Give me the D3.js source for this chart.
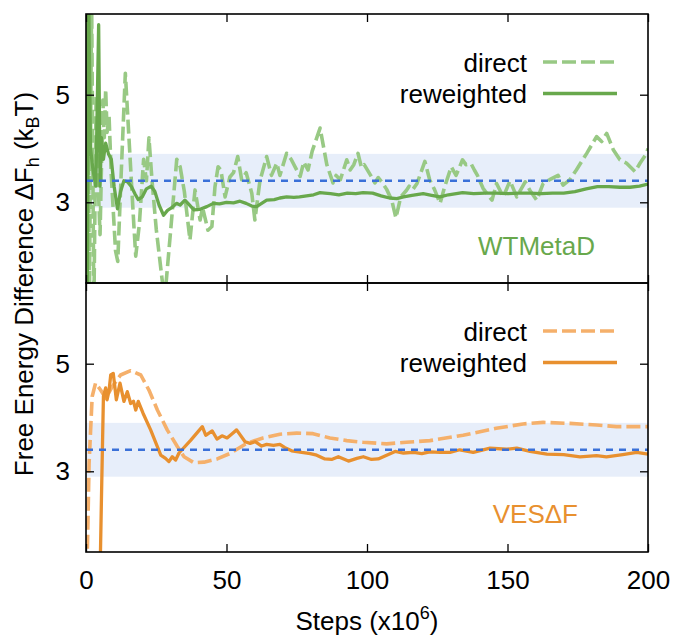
<!DOCTYPE html>
<html>
<head>
<meta charset="utf-8">
<script src="https://cdn.jsdelivr.net/npm/d3@7"></script>
<style>
  body { margin: 0; background: #fff; }
  svg text { font-family: "Liberation Sans", Arial, sans-serif; fill: #000; }
</style>
</head>
<body>
<svg id="chart" width="673" height="637"></svg>
<script>
// [steps (x10^6), dF (kBT)]
const wtDirect = [
  [0,6.0],[0.5,7.0],[1.2,1.2],[2.0,6.8],[2.8,1.0],[3.6,5.0],[4.3,3.4],[5.0,2.4],[6.0,4.9],[6.5,4.2],
  [7.0,5.1],[7.5,4.3],[8.2,4.6],[9.0,3.5],[10.5,2.1],[11.3,1.9],[12.5,3.5],[14.0,5.4],[15.5,4.0],[17.0,2.6],
  [17.7,2.0],[19.0,2.6],[20.5,3.8],[21.5,3.4],[22.4,4.2],[23.5,3.4],[25.0,2.5],[27.0,1.6],[28.0,1.2],[30.0,2.4],
  [32.3,3.8],[33.5,3.66],[35,3.2],[37,2.3],[38.8,3.23],[40.6,2.67],[41.5,2.9],[43.4,2.48],[44.8,2.55],[45.9,3.29],
  [47,3.66],[48,3.6],[49.5,3.1],[51.2,3.47],[52.5,3.55],[54,3.85],[55.4,3.42],[57,3.55],[59,3.17],[60.1,2.67],
  [61.9,3.4],[64.3,3.85],[66,3.5],[67.9,3.73],[69,3.5],[71.4,3.91],[73,3.8],[74.5,3.65],[76.2,3.48],[77.5,3.75],
  [79,3.6],[80.5,3.95],[83.3,4.38],[85.7,3.7],[87.9,3.36],[89,3.5],[90.5,3.42],[92.8,3.79],[94,3.6],[95.3,3.7],
  [96.8,3.91],[98,3.65],[99,3.7],[101.3,3.5],[102.8,3.36],[104,3.46],[105.5,3.36],[107,3.24],[108.8,3.04],[110.3,2.71],
  [112,3.1],[114,3.22],[115,3.3],[116.2,3.23],[117.8,3.35],[120.6,3.76],[122.3,3.42],[124,3.24],[126,2.98],[127.7,3.3],
  [130,3.66],[131.7,3.5],[134,3.79],[135.2,3.7],[137,3.72],[138.2,3.6],[139.3,3.5],[141.3,3.26],[143,3.14],[144.5,3.04],
  [146.1,3.35],[148.5,3.1],[150.9,3.4],[153.3,3.1],[156.3,3.38],[158,3.22],[160.4,3.04],[162.7,3.35],[165,3.42],[168,3.5],
  [169.8,3.32],[172.2,3.42],[174.5,3.6],[178.2,3.91],[181.7,4.22],[183.5,4.13],[185.3,4.28],[187.7,3.97],[190,3.79],[192.3,3.73],
  [195.4,3.57],[197.2,3.73],[199.5,3.91],[200,4.0]
];
const wtReweighted = [
  [0,6.8],[0.4,1.0],[1.0,6.6],[1.6,4.0],[2.5,3.6],[3.5,3.3],[4.5,6.3],[5.0,3.3],[5.5,4.2],[6.2,3.8],
  [7.0,4.1],[8.0,3.9],[9.0,3.8],[10.0,3.3],[11.2,2.88],[12.3,3.2],[13.5,3.4],[14.8,3.38],[16.2,3.29],[17.5,3.15],
  [18.6,3.05],[20,3.1],[21.5,3.25],[23.2,3.3],[24.5,3.2],[26,2.95],[27.6,2.76],[29,2.85],[30.5,2.9],[32.2,2.98],
  [33.5,2.95],[35.2,3.04],[36.8,2.95],[38.4,2.86],[40.6,2.87],[43,2.92],[45.3,2.98],[47.5,2.97],[50,3.0],[52.5,2.99],
  [54.8,3.02],[57,2.98],[59,2.93],[60.7,2.92],[62.5,2.98],[64.3,3.04],[67,3.05],[69,3.08],[71.4,3.1],[74,3.09],
  [76,3.1],[78.5,3.12],[81,3.14],[83.3,3.18],[85,3.17],[87,3.16],[90,3.14],[93,3.17],[96,3.16],[98.6,3.18],
  [102,3.17],[105,3.12],[108,3.08],[110.6,3.07],[113,3.1],[116,3.13],[120,3.16],[123,3.13],[126,3.1],[129,3.14],
  [134,3.18],[138,3.16],[142,3.17],[146,3.17],[150,3.16],[154,3.17],[158,3.17],[162,3.16],[166,3.17],[170,3.17],
  [174,3.2],[178,3.25],[182,3.29],[186,3.29],[190,3.28],[193.6,3.28],[197,3.3],[200,3.34]
];
const vesDirect = [
  [0,0.5],[0.6,1.8],[1.1,3.15],[2.2,4.39],[3.4,4.64],[5.2,4.51],[7.0,4.36],[9.3,4.57],[12.3,4.79],[15.9,4.87],
  [19.5,4.79],[22.4,4.51],[25.4,4.14],[28.9,3.77],[32.5,3.46],[34.9,3.27],[38.4,3.16],[42,3.17],[46.7,3.23],[51.2,3.33],
  [57.2,3.52],[63,3.62],[69,3.69],[75,3.71],[80.8,3.7],[86.8,3.62],[92.8,3.57],[98.6,3.54],[107,3.51],[114,3.54],
  [122.4,3.57],[134.2,3.67],[146,3.8],[155.5,3.88],[162.7,3.91],[172.2,3.89],[181.7,3.86],[188.8,3.83],[200,3.83]
];
const vesReweighted = [
  [4.8,0.5],[5.5,2.5],[6.2,4.39],[7.0,4.55],[7.5,4.33],[8.2,4.5],[8.8,4.79],[9.7,4.82],[10.8,4.33],[12.1,4.64],
  [13.5,4.3],[14.7,4.48],[15.9,4.26],[16.9,4.3],[17.7,4.14],[18.6,4.3],[20.3,4.08],[23,3.77],[26.6,3.3],[28.3,3.24],
  [29.5,3.18],[30.7,3.27],[31.9,3.21],[33.1,3.34],[37.3,3.58],[41.4,3.83],[42.6,3.67],[44.9,3.75],[46.6,3.6],[48.4,3.66],
  [50.2,3.62],[52,3.7],[53.6,3.77],[56.6,3.55],[58.4,3.52],[60.2,3.55],[62.5,3.47],[64.3,3.5],[66.7,3.48],[69,3.5],
  [70.8,3.44],[73.2,3.38],[76.8,3.35],[79.8,3.33],[82.1,3.3],[85,3.23],[87.4,3.22],[89.8,3.27],[93.4,3.19],[96.4,3.24],
  [98.7,3.27],[101.6,3.22],[104,3.23],[107,3.3],[110,3.37],[113,3.34],[116.6,3.35],[119.5,3.33],[122.4,3.36],[126,3.35],
  [129.5,3.35],[133,3.4],[137.8,3.35],[143.8,3.43],[149.7,3.41],[153.3,3.43],[158,3.37],[164,3.32],[170,3.31],[175.8,3.27],
  [181.7,3.29],[185.2,3.27],[191,3.31],[196,3.35],[200,3.32]
];
const reference = 3.4;       // dotted line
const refBand = [2.9, 3.9];  // shaded band
const xTicks = [0, 50, 100, 150, 200];
const yTicks = [3, 5];
const panels = [
  {name: "WTMetaD", direct: wtDirect, reweighted: wtReweighted, light: "#98c984", dark: "#68a84c"},
  {name: "VES\u0394F", direct: vesDirect, reweighted: vesReweighted, light: "#f5b06b", dark: "#e8902f"}
];

const svg = d3.select("#chart");
const left = 86, right = 648, top0 = 14, panelH = 269;
const x = d3.scaleLinear().domain([0, 200]).range([left, right]);

panels.forEach(function (p, i) {
    let y0 = top0 + i * panelH;
    let y = d3.scaleLinear().domain([1.5, 6.5]).range([y0 + panelH, y0]);
    let g = svg.append("g");

    g.append("clipPath").attr("id", "clip" + i)
        .append("rect").attr("x", left).attr("y", y0).attr("width", right - left).attr("height", panelH);

    g.append("rect")
        .attr("x", left).attr("width", right - left)
        .attr("y", y(refBand[1])).attr("height", y(refBand[0]) - y(refBand[1]))
        .attr("fill", "#e7eefa");

    let line = d3.line().x(d => x(d[0])).y(d => y(d[1]));
    let data = g.append("g").attr("clip-path", "url(#clip" + i + ")");
    data.append("path").datum(p.direct)
        .attr("d", line).attr("fill", "none")
        .attr("stroke", p.light).attr("stroke-width", 3.6)
        .attr("stroke-dasharray", "14,5").attr("stroke-linejoin", "round");
    data.append("path").datum(p.reweighted)
        .attr("d", line).attr("fill", "none")
        .attr("stroke", p.dark).attr("stroke-width", 3.3)
        .attr("stroke-linejoin", "round");

    g.append("line")
        .attr("x1", left).attr("x2", right)
        .attr("y1", y(reference)).attr("y2", y(reference))
        .attr("stroke", "#3a70d8").attr("stroke-width", 2.6)
        .attr("stroke-dasharray", "7,6");

    // inward ticks on all four sides
    let axB = g.append("g").attr("transform", "translate(0," + (y0 + panelH) + ")")
        .call(d3.axisBottom(x).tickValues(xTicks).tickSizeInner(-8).tickSizeOuter(0).tickPadding(19).tickFormat(i === 1 ? d3.format("d") : ""));
    let axT = g.append("g").attr("transform", "translate(0," + y0 + ")")
        .call(d3.axisTop(x).tickValues(xTicks).tickSizeInner(-8).tickSizeOuter(0).tickFormat(""));
    let axL = g.append("g").attr("transform", "translate(" + left + ",0)")
        .call(d3.axisLeft(y).tickValues(yTicks).tickSizeInner(-8).tickSizeOuter(0).tickPadding(16).tickFormat(d3.format("d")));
    let axR = g.append("g").attr("transform", "translate(" + right + ",0)")
        .call(d3.axisRight(y).tickValues(yTicks).tickSizeInner(-8).tickSizeOuter(0).tickFormat(""));
    [axB, axT, axL, axR].forEach(function (a) {
        a.select(".domain").remove();
        a.selectAll("line").attr("stroke", "#000").attr("stroke-width", 1.3);
        a.selectAll("text").attr("font-size", 26).attr("font-family", "Liberation Sans, Arial, sans-serif").attr("fill", "#000");
    });

    g.append("rect")
        .attr("x", left).attr("y", y0).attr("width", right - left).attr("height", panelH)
        .attr("fill", "none").attr("stroke", "#000").attr("stroke-width", 1.6);

    // legend
    let legend = [["direct", p.light, "14,5", 0], ["reweighted", p.dark, null, 31.5]];
    legend.forEach(function (l) {
        g.append("text")
            .attr("x", 527).attr("y", y0 + 57.5 + l[3])
            .attr("text-anchor", "end").attr("font-size", 26)
            .text(l[0]);
        g.append("line")
            .attr("x1", 543).attr("x2", 617)
            .attr("y1", y0 + 48 + l[3]).attr("y2", y0 + 48 + l[3])
            .attr("stroke", l[1]).attr("stroke-width", 3.5)
            .attr("stroke-dasharray", l[2]);
    });

    g.append("text")
        .attr("x", i === 0 ? 595 : 578).attr("y", y0 + (i === 0 ? 241 : 240))
        .attr("text-anchor", "end").attr("font-size", 26)
        .style("fill", p.dark)
        .text(p.name);
});

let yl = svg.append("text")
    .attr("transform", "translate(33,284) rotate(-90)")
    .attr("text-anchor", "middle").attr("font-size", 26);
yl.append("tspan").text("Free Energy Difference \u0394F");
yl.append("tspan").attr("font-size", 18).attr("dy", 6).text("h");
yl.append("tspan").attr("dy", -6).text(" (k");
yl.append("tspan").attr("font-size", 18).attr("dy", 6).text("B");
yl.append("tspan").attr("dy", -6).text("T)");

let xl = svg.append("text")
    .attr("x", 367).attr("y", 630)
    .attr("text-anchor", "middle").attr("font-size", 26);
xl.append("tspan").text("Steps (x10");
xl.append("tspan").attr("font-size", 18).attr("dy", -11).text("6");
xl.append("tspan").attr("dy", 11).text(")");
</script>
</body>
</html>
